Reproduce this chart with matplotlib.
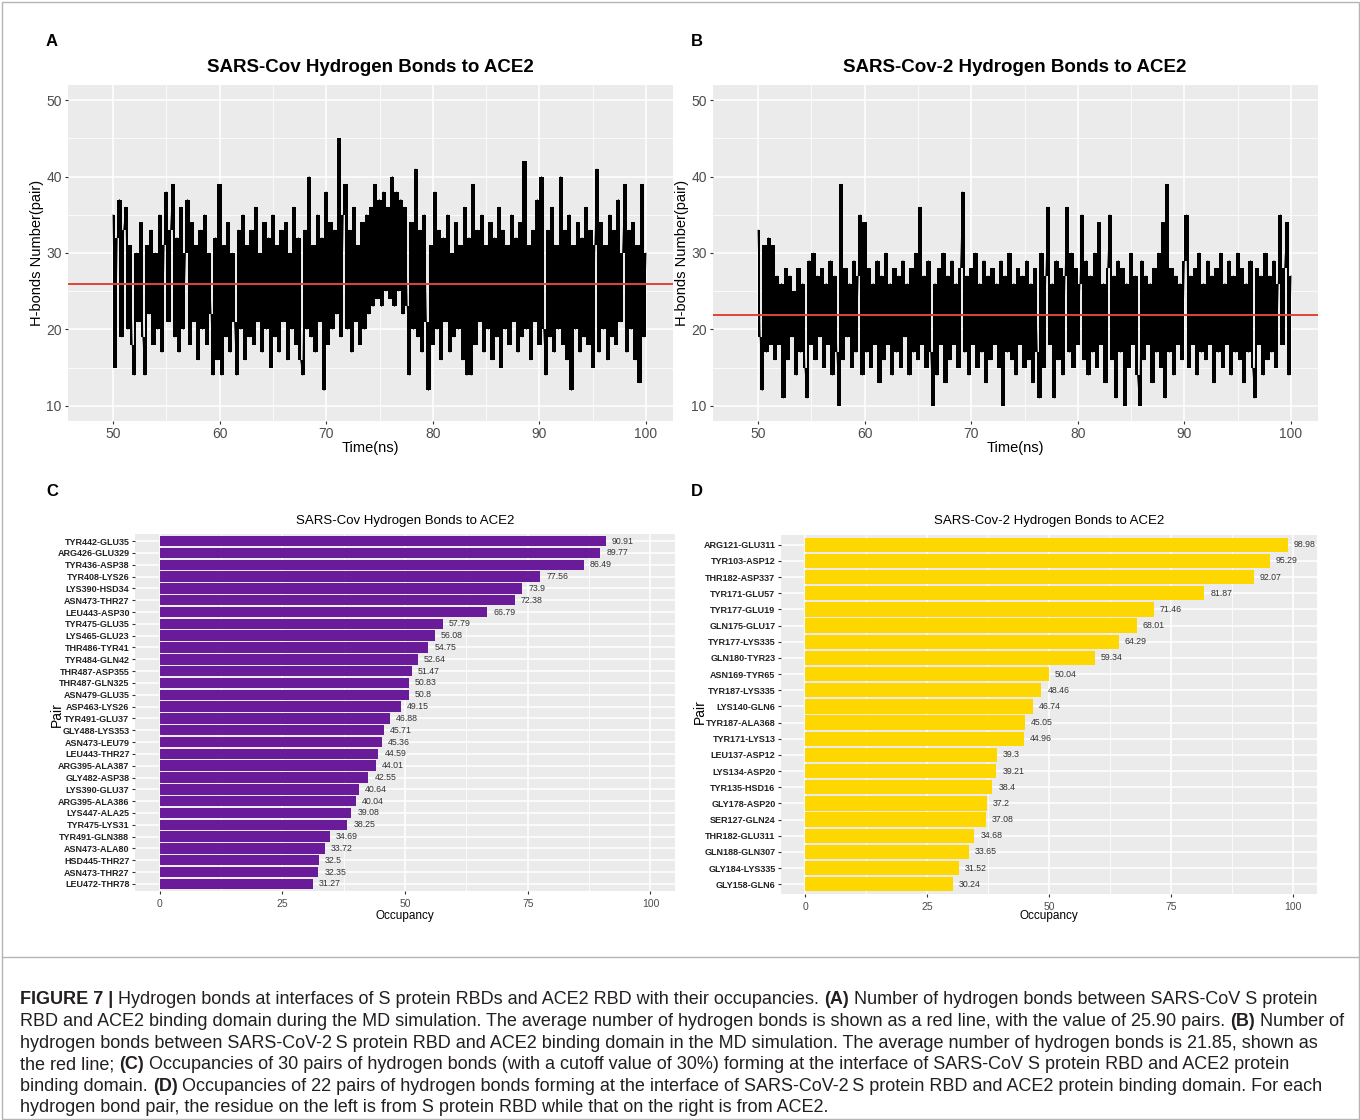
import numpy as np
import matplotlib
matplotlib.use("Agg")
import matplotlib.pyplot as plt
from matplotlib.patches import Rectangle
from matplotlib.lines import Line2D

plt.rcParams['font.family'] = ['Liberation Sans', 'DejaVu Sans']

# ---------------- data ----------------
time_start, time_step = 50.0, 0.2

hbonds_sars = [
    35, 15, 32, 37, 19, 33, 36, 20, 31, 18,
    14, 30, 21, 34, 19, 14, 31, 22, 33, 18,
    30, 20, 35, 17, 31, 38, 21, 33, 39, 19,
    32, 17, 36, 20, 30, 37, 18, 34, 21, 31,
    16, 33, 20, 35, 18, 30, 22, 14, 32, 16,
    39, 14, 31, 19, 34, 17, 30, 21, 14, 33,
    20, 35, 16, 31, 19, 33, 18, 36, 21, 30,
    17, 34, 20, 32, 15, 35, 19, 31, 17, 33,
    21, 34, 16, 30, 20, 36, 18, 32, 16, 14,
    33, 20, 40, 19, 31, 17, 35, 21, 32, 12,
    38, 18, 34, 20, 33, 22, 45, 19, 35, 39,
    20, 33, 17, 36, 21, 31, 18, 34, 20, 35,
    22, 36, 23, 39, 24, 37, 23, 38, 25, 36,
    24, 40, 23, 38, 25, 37, 22, 36, 23, 14,
    34, 20, 41, 19, 33, 17, 35, 21, 12, 31,
    18, 38, 20, 33, 16, 32, 21, 35, 17, 30,
    19, 34, 20, 31, 16, 36, 14, 32, 14, 39,
    18, 33, 21, 35, 17, 31, 20, 34, 16, 32,
    19, 36, 15, 33, 20, 31, 18, 35, 21, 32,
    17, 34, 19, 42, 20, 31, 16, 33, 21, 37,
    18, 40, 20, 14, 33, 19, 36, 17, 31, 20,
    40, 18, 33, 16, 35, 12, 31, 20, 34, 17,
    32, 19, 36, 18, 33, 15, 31, 41, 17, 34,
    20, 31, 16, 35, 19, 33, 18, 37, 21, 30,
    39, 17, 33, 20, 34, 16, 31, 13, 39, 19,
    30,
]

hbonds_sars2 = [
    33, 19, 12, 31, 17, 32, 18, 31, 16, 27,
    18, 26, 11, 28, 16, 27, 19, 25, 14, 28,
    17, 26, 15, 11, 29, 18, 30, 16, 27, 19,
    28, 15, 26, 18, 29, 14, 27, 17, 10, 39,
    16, 28, 19, 26, 15, 29, 17, 27, 35, 14,
    34, 17, 28, 15, 26, 18, 29, 13, 27, 16,
    30, 18, 26, 14, 28, 17, 27, 15, 29, 19,
    26, 14, 28, 17, 30, 16, 36, 18, 27, 15,
    29, 17, 10, 26, 14, 28, 18, 30, 13, 27,
    16, 29, 18, 26, 15, 28, 38, 17, 27, 14,
    28, 18, 30, 15, 26, 17, 29, 13, 27, 16,
    28, 18, 26, 15, 29, 10, 27, 17, 30, 16,
    26, 14, 28, 18, 27, 15, 29, 16, 26, 13,
    28, 17, 11, 30, 15, 27, 36, 18, 26, 11,
    29, 16, 28, 14, 27, 36, 17, 30, 15, 28,
    18, 26, 35, 16, 29, 14, 27, 17, 30, 15,
    34, 18, 26, 13, 28, 35, 16, 27, 11, 29,
    17, 28, 10, 26, 15, 30, 18, 27, 14, 10,
    29, 16, 27, 18, 26, 13, 28, 17, 30, 15,
    34, 11, 39, 17, 28, 14, 27, 18, 26, 16,
    29, 35, 15, 27, 18, 28, 14, 30, 17, 26,
    16, 29, 18, 27, 13, 28, 17, 30, 15, 26,
    18, 29, 14, 27, 17, 30, 16, 28, 13, 26,
    17, 29, 15, 11, 28, 18, 27, 14, 30, 16,
    27, 17, 29, 15, 26, 35, 18, 28, 34, 14,
    27,
]

mean_sars = 25.90
mean_sars2 = 21.85

pairs_sars = ["TYR442-GLU35", "ARG426-GLU329", "TYR436-ASP38", "TYR408-LYS26",
              "LYS390-HSD34", "ASN473-THR27", "LEU443-ASP30", "TYR475-GLU35",
              "LYS465-GLU23", "THR486-TYR41", "TYR484-GLN42", "THR487-ASP355",
              "THR487-GLN325", "ASN479-GLU35", "ASP463-LYS26", "TYR491-GLU37",
              "GLY488-LYS353", "ASN473-LEU79", "LEU443-THR27", "ARG395-ALA387",
              "GLY482-ASP38", "LYS390-GLU37", "ARG395-ALA386", "LYS447-ALA25",
              "TYR475-LYS31", "TYR491-GLN388", "ASN473-ALA80", "HSD445-THR27",
              "ASN473-THR27", "LEU472-THR78"]
occ_sars = [90.91, 89.77, 86.49, 77.56, 73.9, 72.38, 66.79, 57.79, 56.08, 54.75,
            52.64, 51.47, 50.83, 50.8, 49.15, 46.88, 45.71, 45.36, 44.59, 44.01,
            42.55, 40.64, 40.04, 39.08, 38.25, 34.69, 33.72, 32.5, 32.35, 31.27]

pairs_sars2 = ["ARG121-GLU311", "TYR103-ASP12", "THR182-ASP337", "TYR171-GLU57",
               "TYR177-GLU19", "GLN175-GLU17", "TYR177-LYS335", "GLN180-TYR23",
               "ASN169-TYR65", "TYR187-LYS335", "LYS140-GLN6", "TYR187-ALA368",
               "TYR171-LYS13", "LEU137-ASP12", "LYS134-ASP20", "TYR135-HSD16",
               "GLY178-ASP20", "SER127-GLN24", "THR182-GLU311", "GLN188-GLN307",
               "GLY184-LYS335", "GLY158-GLN6"]
occ_sars2 = [98.98, 95.29, 92.07, 81.87, 71.46, 68.01, 64.29, 59.34, 50.04, 48.46,
             46.74, 45.05, 44.96, 39.3, 39.21, 38.4, 37.2, 37.08, 34.68, 33.65,
             31.52, 30.24]

time_ticks = [50, 60, 70, 80, 90, 100]
hb_ticks = [10, 20, 30, 40, 50]
occ_ticks = [0, 25, 50, 75, 100]

caption_lines = [
    [("FIGURE 7 | ", True), ("Hydrogen bonds at interfaces of S protein RBDs and ACE2 RBD with their occupancies. ", False),
     ("(A)", True), (" Number of hydrogen bonds between SARS-CoV S protein", False)],
    [("RBD and ACE2 binding domain during the MD simulation. The average number of hydrogen bonds is shown as a red line, with the value of 25.90 pairs. ", False),
     ("(B)", True), (" Number of", False)],
    [("hydrogen bonds between SARS-CoV-2\u2009S protein RBD and ACE2 binding domain in the MD simulation. The average number of hydrogen bonds is 21.85, shown as", False)],
    [("the red line; ", False), ("(C)", True),
     (" Occupancies of 30 pairs of hydrogen bonds (with a cutoff value of 30%) forming at the interface of SARS-CoV S protein RBD and ACE2 protein", False)],
    [("binding domain. ", False), ("(D)", True),
     (" Occupancies of 22 pairs of hydrogen bonds forming at the interface of SARS-CoV-2\u2009S protein RBD and ACE2 protein binding domain. For each", False)],
    [("hydrogen bond pair, the residue on the left is from S protein RBD while that on the right is from ACE2.", False)],
]

# ---------------- figure ----------------
W, H = 1360, 1120
fig = plt.figure(figsize=(W / 100, H / 100), dpi=100)
fig.patch.set_facecolor("white")

BG = "#EBEBEB"
TICKC = "#4D4D4D"


def ax_px(l, t, r, b):
    return fig.add_axes([l / W, 1 - b / H, (r - l) / W, (b - t) / H])


def T(x, y, s, **kw):
    return fig.text(x / W, 1 - y / H, s, **kw)


def gg_style(ax):
    ax.set_facecolor(BG)
    for sp in ax.spines.values():
        sp.set_visible(False)
    ax.grid(True, which="major", color="white", lw=1.1)
    ax.grid(True, which="minor", color="white", lw=0.55)
    ax.set_axisbelow(True)
    ax.tick_params(which="major", length=2.5, width=0.8, color="#333333", colors=TICKC)
    ax.tick_params(which="minor", length=0)


def ts_panel(ax, values, mean):
    gg_style(ax)
    v = np.asarray(values, dtype=float)
    t = time_start + time_step * np.arange(len(v))
    # dense trace: each step between consecutive frames spans min..max of the pair
    lo = np.minimum(v[:-1], v[1:])
    hi = np.maximum(v[:-1], v[1:])
    lo = np.append(lo, lo[-1])
    hi = np.append(hi, hi[-1])
    ax.fill_between(t, lo, hi, step="post", color="black", lw=0, zorder=2)
    ax.plot(t, v, color="black", lw=0.6, zorder=2)
    ax.axhline(mean, color="#E0443A", lw=1.4, zorder=3)
    ax.set_xlim(45.78, 102.53)
    ax.set_ylim(8.0, 52.0)
    ax.set_xticks(time_ticks)
    ax.set_yticks(hb_ticks)
    ax.set_xticks([55, 65, 75, 85, 95], minor=True)
    ax.set_yticks([15, 25, 35, 45], minor=True)
    ax.tick_params(labelsize=10, pad=2)
    for lab in ax.get_xticklabels() + ax.get_yticklabels():
        lab.set_color(TICKC)


def bar_panel(ax, labels, values, color):
    gg_style(ax)
    y = np.arange(len(labels))
    ax.barh(y, values, height=0.88, color=color, edgecolor="none")
    ax.set_ylim(len(labels) - 0.4, -0.6)
    ax.set_xlim(-5, 105)
    ax.set_yticks(y)
    ax.set_yticklabels(labels)
    ax.set_xticks(occ_ticks)
    ax.set_xticks([12.5, 37.5, 62.5, 87.5], minor=True)
    ax.tick_params(axis="y", labelsize=6.5, length=2, pad=2)
    ax.tick_params(axis="x", labelsize=7.5, length=2)
    for lab in ax.get_yticklabels():
        lab.set_color("#222222")
        lab.set_fontweight("bold")
    for lab in ax.get_xticklabels():
        lab.set_color(TICKC)
    for yi, val in zip(y, values):
        ax.text(val + 1.2, yi, f"{val:g}", fontsize=6.3, color="#333333", va="center", ha="left")


# Panel A
axA = ax_px(68, 85, 673, 421)
ts_panel(axA, hbonds_sars, mean_sars)
# Panel B
axB = ax_px(713, 85, 1318, 421)
ts_panel(axB, hbonds_sars2, mean_sars2)

T(370, 68, "SARS-Cov Hydrogen Bonds to ACE2", fontsize=13.5, fontweight="bold", ha="center", va="center")
T(1015, 68, "SARS-Cov-2 Hydrogen Bonds to ACE2", fontsize=13.5, fontweight="bold", ha="center", va="center")
T(370, 448, "Time(ns)", fontsize=10.5, ha="center", va="center")
T(1015, 448, "Time(ns)", fontsize=10.5, ha="center", va="center")
T(37, 253, "H-bonds Number(pair)", fontsize=10.5, ha="center", va="center", rotation=90)
T(682, 253, "H-bonds Number(pair)", fontsize=10.5, ha="center", va="center", rotation=90)

# Panel C
axC = ax_px(135, 534, 675, 891)
bar_panel(axC, pairs_sars, occ_sars, "#6A1B9A")
# Panel D
axD = ax_px(781, 535, 1317, 894)
bar_panel(axD, pairs_sars2, occ_sars2, "#FFD700")

T(405, 521, "SARS-Cov Hydrogen Bonds to ACE2", fontsize=9.5, ha="center", va="center")
T(1049, 521, "SARS-Cov-2 Hydrogen Bonds to ACE2", fontsize=9.5, ha="center", va="center")
T(405, 916, "Occupancy", fontsize=8.5, ha="center", va="center")
T(1049, 916, "Occupancy", fontsize=8.5, ha="center", va="center")
T(57, 715, "Pair", fontsize=10, ha="center", va="center", rotation=90)
T(700, 712, "Pair", fontsize=10, ha="center", va="center", rotation=90)

# panel letters
for x, y, s in [(52, 42, "A"), (697, 42, "B"), (52, 492, "C"), (697, 492, "D")]:
    T(x, y, s, fontsize=12, fontweight="bold", ha="center", va="center")

# outer frame and divider between figure and caption
fig.add_artist(Rectangle((1.5 / W, 1.5 / H), (W - 3) / W, (H - 3) / H, transform=fig.transFigure,
                         fill=False, edgecolor="#B5B5B5", lw=1))
fig.add_artist(Line2D([1.5 / W, (W - 1.5) / W], [1 - 957 / H, 1 - 957 / H], transform=fig.transFigure,
                      color="#B5B5B5", lw=1))

# caption: size chosen so that the longest line fits the caption box
r = fig.canvas.get_renderer()
cap_family = ["Liberation Sans", "DejaVu Sans"]


def line_width(line, size):
    w = 0
    for txt, bold in line:
        tt = fig.text(0, 0, txt, fontsize=size, fontweight="bold" if bold else "normal", family=cap_family)
        w += tt.get_window_extent(renderer=r).width
        tt.remove()
    return w


base = 12.0
widest = max(line_width(ln, base) for ln in caption_lines)
cap_size = base * 1322 / widest
y0 = 1000
for line in caption_lines:
    x = 20
    for txt, bold in line:
        tt = T(x, y0, txt, fontsize=cap_size, fontweight="bold" if bold else "normal",
               ha="left", va="center", color="#231F20", family=cap_family)
        bb = tt.get_window_extent(renderer=r)
        x += bb.width
    y0 += 21.6

fig.savefig("out.png", dpi=100)
